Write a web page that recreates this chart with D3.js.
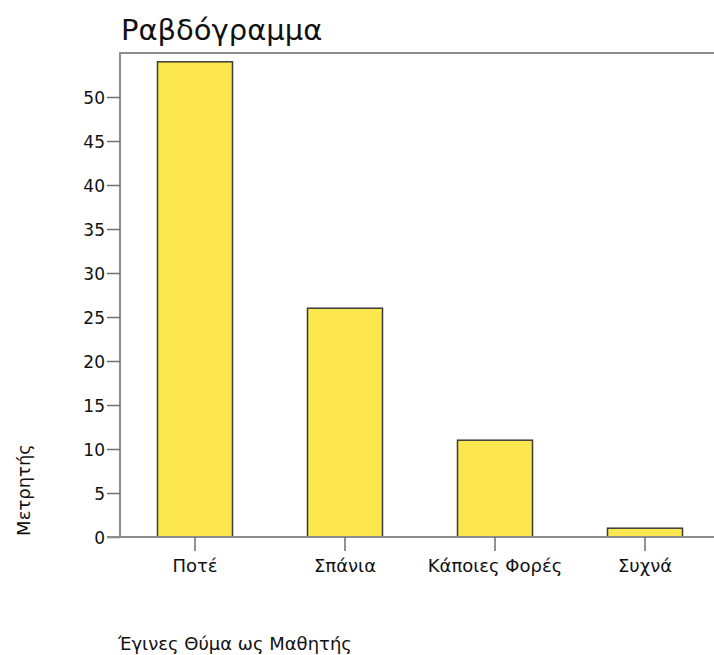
<!DOCTYPE html>
<html>
<head>
<meta charset="utf-8" />
<title>Ραβδόγραμμα</title>
<script src="https://cdn.jsdelivr.net/npm/d3@7"></script>
<style>
  body { margin: 0; background: #fff; }
  text { font-family: "DejaVu Sans", Verdana, sans-serif; fill: #111; }
</style>
</head>
<body>
<div id="chart"></div>
<script>
// data
var categories = ["Ποτέ", "Σπάνια", "Κάποιες Φορές", "Συχνά"];
var counts = [54, 26, 11, 1];
var yTicks = [0, 5, 10, 15, 20, 25, 30, 35, 40, 45, 50];

var width = 714, height = 655;
var plotLeft = 120, plotTop = 53, plotBottom = 537;

var svg = d3.select("#chart").append("svg")
    .attr("width", width)
    .attr("height", height);

var x = d3.scaleBand()
    .domain(categories)
    .range([plotLeft, 720])
    .paddingInner(0.5)
    .paddingOuter(0.25);

var y = d3.scaleLinear()
    .domain([0, 55])
    .range([plotBottom, plotTop]);

// frame: left and top lines
svg.append("path")
    .attr("d", "M" + plotLeft + "," + plotBottom + "V" + plotTop + "H" + width)
    .attr("fill", "none")
    .attr("stroke", "#8c8c8c")
    .attr("stroke-width", 2);

// bars
svg.selectAll("rect.bar")
    .data(counts)
    .enter()
    .append("rect")
    .attr("class", "bar")
    .attr("x", function(d, i) { return x(categories[i]); })
    .attr("width", x.bandwidth())
    .attr("y", function(d) { return y(d); })
    .attr("height", function(d) { return y(0) - y(d); })
    .attr("fill", "#fce84e")
    .attr("stroke", "#3a3a3a")
    .attr("stroke-width", 1.5);

// y axis
var yAxis = d3.axisLeft(y).tickValues(yTicks).tickSize(13).tickPadding(2);
var gy = svg.append("g")
    .attr("transform", "translate(" + plotLeft + ",0)")
    .call(yAxis);
gy.select(".domain").remove();
gy.selectAll(".tick line").attr("stroke", "#6e6e6e").attr("stroke-width", 1.5);
gy.selectAll(".tick text")
    .style("font-size", "17px")
    .attr("dy", "0.36em");

// x axis
var xAxis = d3.axisBottom(x).tickSize(14).tickPadding(8).tickSizeOuter(0);
var gx = svg.append("g")
    .attr("transform", "translate(0," + plotBottom + ")")
    .call(xAxis);
gx.select(".domain")
    .attr("d", "M" + (plotLeft - 13) + ",0H" + width)
    .attr("stroke", "#8c8c8c")
    .attr("stroke-width", 2);
gx.selectAll(".tick line").attr("stroke", "#6e6e6e").attr("stroke-width", 1.5);
gx.selectAll(".tick text").style("font-size", "18px");

// title
svg.append("text")
    .attr("x", 121)
    .attr("y", 40)
    .style("font-size", "29px")
    .text("Ραβδόγραμμα");

// axis titles
svg.append("text")
    .attr("transform", "translate(30,490) rotate(-90)")
    .attr("text-anchor", "middle")
    .style("font-size", "18px")
    .text("Μετρητής");

svg.append("text")
    .attr("x", 118)
    .attr("y", 650)
    .style("font-size", "18px")
    .text("Έγινες Θύμα ως Μαθητής");
</script>
</body>
</html>
